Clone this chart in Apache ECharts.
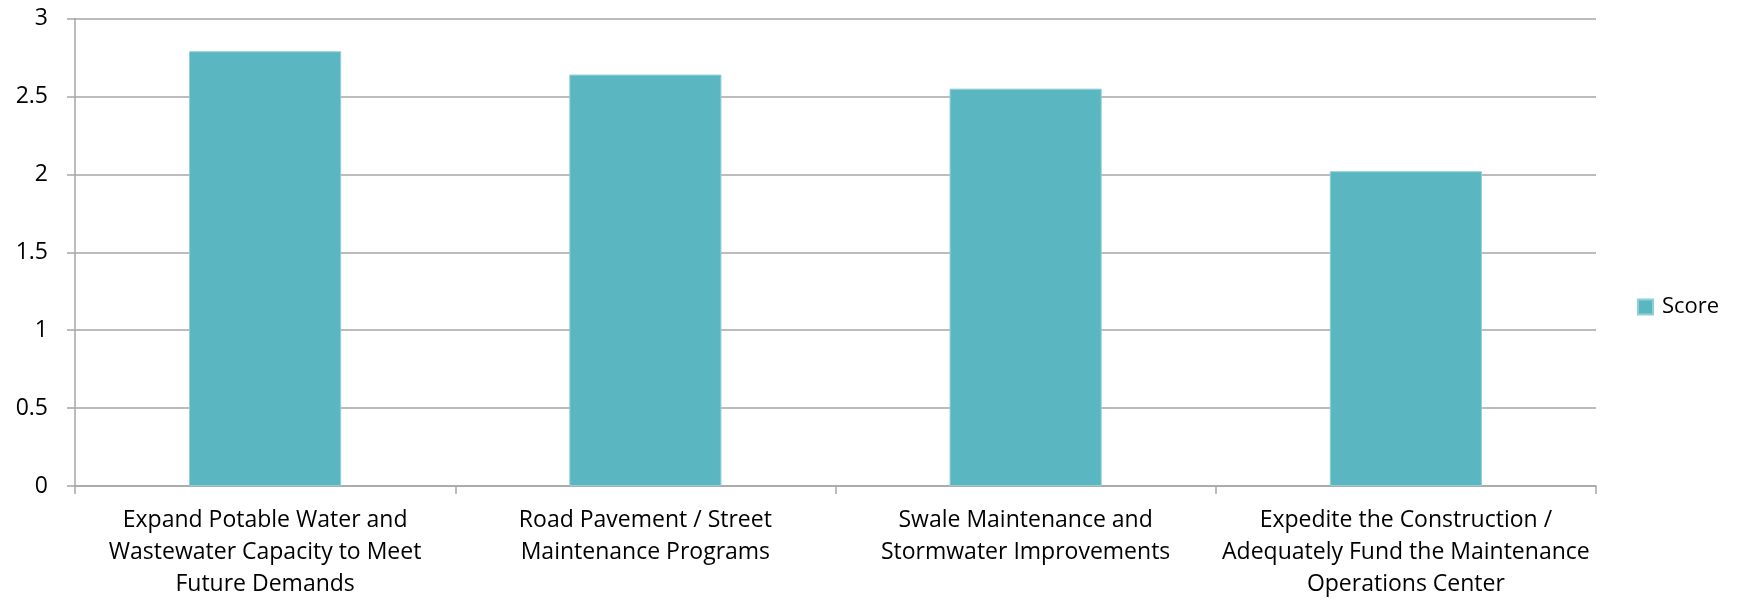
<!DOCTYPE html>
<html>
<head>
<meta charset="utf-8">
<script src="https://cdn.jsdelivr.net/npm/echarts@6/dist/echarts.min.js"></script>
<style>
html,body{margin:0;padding:0;background:#fff;}
#c{width:1749px;height:600px;}
</style>
</head>
<body>
<div id="c"></div>
<script>
const categories = [
  "Expand Potable Water and\nWastewater Capacity to Meet\nFuture Demands",
  "Road Pavement / Street\nMaintenance Programs",
  "Swale Maintenance and\nStormwater Improvements",
  "Expedite the Construction /\nAdequately Fund the Maintenance\nOperations Center"
];
const scoreValues = [2.79, 2.64, 2.55, 2.02];
const seriesName = "Score";

const FONT = "'Open Sans', sans-serif";
const chart = echarts.init(document.getElementById('c'));
chart.setOption({
  animation: false,
  backgroundColor: '#ffffff',
  grid: { left: 75, right: 153, top: 18.5, bottom: 110, containLabel: false },
  legend: {
    data: [seriesName],
    orient: 'vertical',
    left: 1632,
    top: 291,
    itemWidth: 15,
    itemHeight: 15,
    itemGap: 6,
    icon: 'rect',
    textStyle: { fontFamily: FONT, fontSize: 22, color: '#000', padding: [0, 0, 0, 4] }
  },
  xAxis: {
    type: 'category',
    data: categories,
    axisLine: { lineStyle: { color: '#a6a6a6', width: 1.5 } },
    axisTick: { show: true, alignWithLabel: false, length: 8, lineStyle: { color: '#a6a6a6', width: 1.5 } },
    axisLabel: {
      interval: 0,
      margin: 18,
      fontFamily: FONT,
      fontSize: 23,
      lineHeight: 32,
      color: '#000',
      align: 'center'
    }
  },
  yAxis: {
    type: 'value',
    min: 0,
    max: 3,
    interval: 0.5,
    axisLine: { show: true, lineStyle: { color: '#a6a6a6', width: 1.5 } },
    axisTick: { show: true, length: 8, lineStyle: { color: '#a6a6a6', width: 1.5 } },
    splitLine: { show: true, lineStyle: { color: '#a6a6a6', width: 1.5 } },
    axisLabel: {
      margin: 27,
      fontFamily: FONT,
      fontSize: 23,
      color: '#000'
    }
  },
  series: [{
    name: seriesName,
    type: 'bar',
    data: scoreValues,
    barWidth: '40%',
    itemStyle: { color: '#5ab6c0', borderColor: '#8fd0d6', borderWidth: 1 }
  }]
});
</script>
</body>
</html>
